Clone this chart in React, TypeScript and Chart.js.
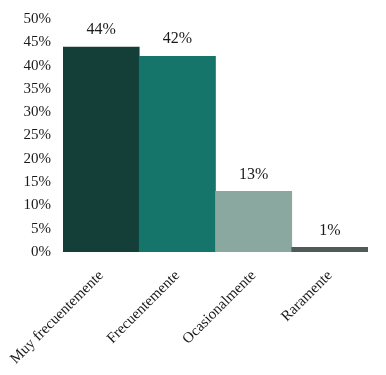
import React, { useEffect, useRef } from "react";
import { Chart, registerables } from "chart.js";

Chart.register(...registerables);

const categories = ["Muy frecuentemente", "Frecuentemente", "Ocasionalmente", "Raramente"];
const values = [44, 42, 13, 1];
const barColors = ["#133f38", "#16756a", "#8aa8a0", "#4e5b58"];
const yMax = 50;
const yStep = 5;

const FONT = "'Liberation Serif', 'Times New Roman', serif";

const labelPlugin = {
  id: "barValueLabels",
  afterDatasetsDraw(chart: any) {
    const ctx = chart.ctx;
    const meta = chart.getDatasetMeta(0);
    ctx.save();
    ctx.font = `16px ${FONT}`;
    ctx.fillStyle = "#1a1a1a";
    ctx.textAlign = "center";
    ctx.textBaseline = "middle";
    meta.data.forEach((bar: any, i: number) => {
      ctx.fillText(`${values[i]}%`, bar.x, bar.y - 17);
    });
    ctx.restore();
  },
};

export default function App() {
  const ref = useRef<HTMLCanvasElement | null>(null);
  useEffect(() => {
    document.body.style.margin = "0";
    const chart = new Chart(ref.current as HTMLCanvasElement, {
      type: "bar",
      data: {
        labels: categories,
        datasets: [
          {
            data: values,
            backgroundColor: barColors,
            borderWidth: 0,
            barPercentage: 1,
            categoryPercentage: 1,
          },
        ],
      },
      options: {
        animation: false,
        responsive: true,
        maintainAspectRatio: false,
        layout: { padding: { top: 19, right: 18, left: 0, bottom: 0 } },
        plugins: { legend: { display: false }, tooltip: { enabled: false } },
        scales: {
          x: {
            grid: { display: false },
            border: { display: false },
            ticks: {
              color: "#1a1a1a",
              font: { family: FONT, size: 15 },
              minRotation: 45,
              maxRotation: 45,
              padding: 7,
            },
            afterFit(scale: any) {
              scale.height = 123;
              scale.paddingLeft = 0;
              scale.paddingRight = 0;
            },
          },
          y: {
            min: 0,
            max: yMax,
            grid: { display: false },
            border: { display: false },
            ticks: {
              stepSize: yStep,
              color: "#1a1a1a",
              font: { family: FONT, size: 15 },
              padding: 4,
              callback: (v: any) => `${v}%`,
            },
            afterFit(scale: any) {
              scale.width = 63;
              scale.paddingTop = 0;
              scale.paddingBottom = 0;
            },
          },
        },
      },
      plugins: [labelPlugin],
    });
    return () => chart.destroy();
  }, []);
  return (
    <div style={{ width: 386, height: 375, position: "relative" }}>
      <canvas ref={ref} />
    </div>
  );
}
